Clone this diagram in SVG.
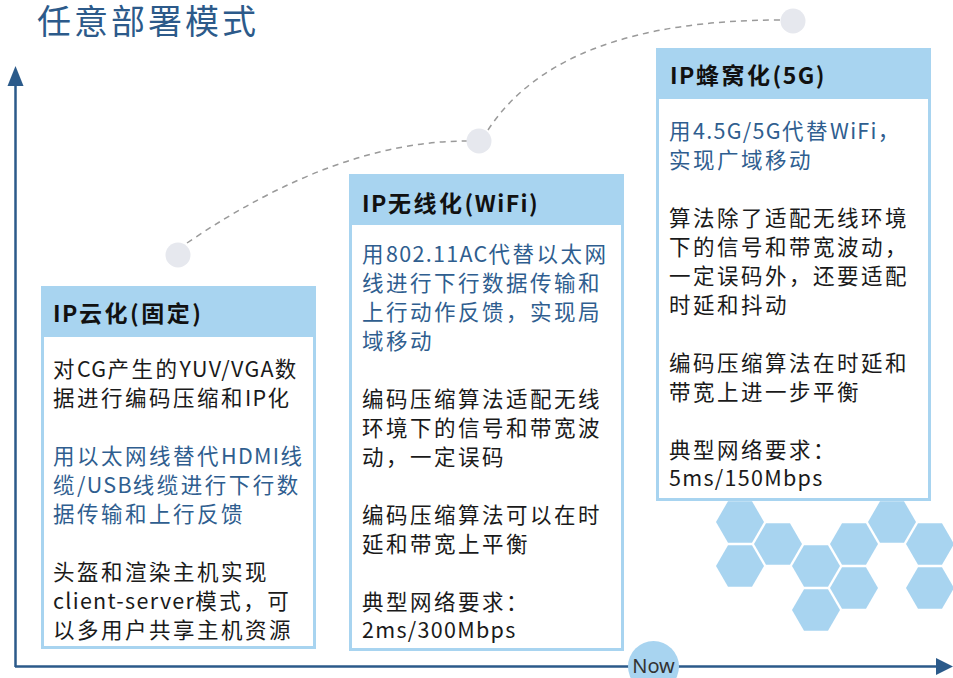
<svg xmlns="http://www.w3.org/2000/svg" width="953" height="678" viewBox="0 0 953 678">
  <style>
    text { font-family: "Noto Sans CJK SC", "Noto Sans", sans-serif; }
    .title { font-size: 34px; fill: #2c5a8a; letter-spacing: 3px; }
    .head { font-size: 23px; font-weight: bold; fill: #111; letter-spacing: 2.5px; }
    .head .lat { letter-spacing: 1.5px; }
    .body { font-size: 21.5px; fill: #1a1a1a; letter-spacing: 2.5px; }
    .body .lat { letter-spacing: 1.3px; }
    .blue { fill: #2f5e8f; }
    .frame { fill: #ffffff; stroke: #a8d4f0; stroke-width: 3; }
    .band { fill: #a8d4f0; }
    .hex { fill: #a8d4f0; }
    .dot { fill: #e6e8ee; }
    .trail { fill: none; stroke: #9a9a9a; stroke-width: 1.5; stroke-dasharray: 6 5; }
    .axis { stroke: #2b5a8a; stroke-width: 2.5; fill: none; }
    .tip { fill: #2b5a8a; }
  </style>
  <defs>
    <polygon id="hx" points="-24,0 -12,-20.8 12,-20.8 24,0 12,20.8 -12,20.8"/>
  </defs>

  <text class="title" x="37" y="34">任意部署模式</text>

  <!-- decorative honeycomb -->
  <g id="honeycomb" class="hex">
    <use href="#hx" x="740" y="522"/>
    <use href="#hx" x="740" y="566"/>
    <use href="#hx" x="778" y="544"/>
    <use href="#hx" x="816" y="566"/>
    <use href="#hx" x="816" y="610"/>
    <use href="#hx" x="854" y="544"/>
    <use href="#hx" x="854" y="588"/>
    <use href="#hx" x="892" y="522"/>
    <use href="#hx" x="930" y="544"/>
    <use href="#hx" x="930" y="588"/>
  </g>

  <!-- axes -->
  <g id="axes">
    <line class="axis" x1="15.5" y1="667" x2="15.5" y2="82"/>
    <polygon class="tip" points="15.5,66 7.5,86 23.5,86"/>
    <line class="axis" x1="15" y1="666.5" x2="940" y2="666.5"/>
    <polygon class="tip" points="953,666.5 936,658 936,675"/>
  </g>

  <!-- dashed trail between milestones -->
  <g id="connectors">
    <path class="trail" d="M187,243 Q337,141 467,141"/>
    <path class="trail" d="M488,130 Q560,20 781,20"/>
  </g>

  <g id="milestone-1"><circle class="dot" cx="178" cy="255" r="12.5"/></g>
  <g id="milestone-2"><circle class="dot" cx="479" cy="141" r="12.5"/></g>
  <g id="milestone-3"><circle class="dot" cx="793" cy="21" r="12.5"/></g>

  <!-- stage 1 -->
  <g id="stage-cloud">
    <rect class="frame" x="42.5" y="287.5" width="272" height="360"/>
    <rect class="band" x="41" y="286" width="275" height="51"/>
    <text class="head" x="53" y="322"><tspan class="lat">IP</tspan>云化(固定)</text>
    <text class="body" x="53" y="377">对<tspan class="lat">CG</tspan>产生的<tspan class="lat">YUV/VGA</tspan>数</text>
    <text class="body" x="53" y="406">据进行编码压缩和<tspan class="lat">IP</tspan>化</text>
    <text class="body blue" x="53" y="464">用以太网线替代<tspan class="lat">HDMI</tspan>线</text>
    <text class="body blue" x="53" y="493">缆<tspan class="lat">/USB</tspan>线缆进行下行数</text>
    <text class="body blue" x="53" y="522">据传输和上行反馈</text>
    <text class="body" x="53" y="580">头盔和渲染主机实现</text>
    <text class="body" x="53" y="609"><tspan class="lat">client-server</tspan>模式，可</text>
    <text class="body" x="53" y="638">以多用户共享主机资源</text>
  </g>

  <!-- stage 2 -->
  <g id="stage-wifi">
    <rect class="frame" x="350.5" y="175.5" width="272" height="474"/>
    <rect class="band" x="349" y="174" width="275" height="51"/>
    <text class="head" x="362" y="212"><tspan class="lat">IP</tspan>无线化<tspan class="lat">(WiFi)</tspan></text>
    <text class="body blue" x="362" y="262">用<tspan class="lat">802.11AC</tspan>代替以太网</text>
    <text class="body blue" x="362" y="291">线进行下行数据传输和</text>
    <text class="body blue" x="362" y="320">上行动作反馈，实现局</text>
    <text class="body blue" x="362" y="349">域移动</text>
    <text class="body" x="362" y="407">编码压缩算法适配无线</text>
    <text class="body" x="362" y="436">环境下的信号和带宽波</text>
    <text class="body" x="362" y="465">动，一定误码</text>
    <text class="body" x="362" y="523">编码压缩算法可以在时</text>
    <text class="body" x="362" y="552">延和带宽上平衡</text>
    <text class="body" x="362" y="610">典型网络要求：</text>
    <text class="body" x="362" y="638"><tspan class="lat">2ms/300Mbps</tspan></text>
  </g>

  <!-- stage 3 -->
  <g id="stage-5g">
    <rect class="frame" x="657.5" y="49.5" width="272" height="450"/>
    <rect class="band" x="656" y="48" width="275" height="51"/>
    <text class="head" x="670" y="84"><tspan class="lat">IP</tspan>蜂窝化<tspan class="lat">(5G)</tspan></text>
    <text class="body blue" x="669" y="139">用<tspan class="lat">4.5G/5G</tspan>代替<tspan class="lat">WiFi</tspan>，</text>
    <text class="body blue" x="669" y="168">实现广域移动</text>
    <text class="body" x="669" y="226">算法除了适配无线环境</text>
    <text class="body" x="669" y="255">下的信号和带宽波动，</text>
    <text class="body" x="669" y="284">一定误码外，还要适配</text>
    <text class="body" x="669" y="313">时延和抖动</text>
    <text class="body" x="669" y="371">编码压缩算法在时延和</text>
    <text class="body" x="669" y="400">带宽上进一步平衡</text>
    <text class="body" x="669" y="458">典型网络要求：</text>
    <text class="body" x="669" y="486"><tspan class="lat">5ms/150Mbps</tspan></text>
  </g>

  <!-- current-time marker -->
  <g id="now">
    <circle cx="653.5" cy="666.5" r="25.5" fill="#a8d4f0"/>
    <text x="653.5" y="673" text-anchor="middle" style="font-size:20px;fill:#333;font-family:'Noto Sans','Noto Sans CJK SC',sans-serif">Now</text>
  </g>
</svg>
